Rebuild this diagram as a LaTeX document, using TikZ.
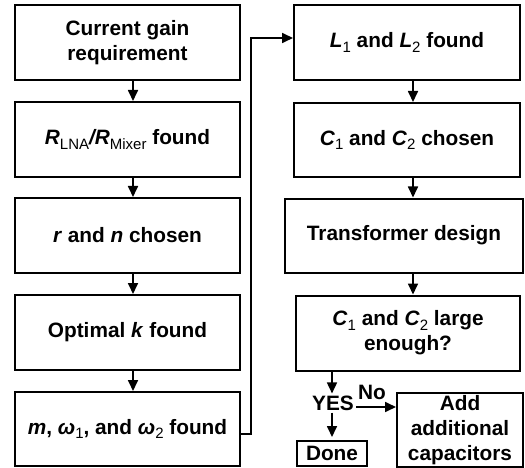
\documentclass[tikz,border=0pt]{standalone}
\usepackage{fontspec}
\setmainfont{Liberation Sans}
\usetikzlibrary{arrows.meta}
\newcommand{\sbs}[1]{\raisebox{-0.22em}{\fontsize{15}{15}\selectfont\mdseries\upshape #1}}
\begin{document}
\begin{tikzpicture}[x=1pt,y=-1pt,
  box/.style={draw, line width=2pt, inner sep=0pt, align=center,
    font=\fontsize{20.8}{25}\selectfont\bfseries},
  arr/.style={-{Triangle[length=11pt,width=10pt]}, line width=1.7pt},
  lbl/.style={inner sep=2pt, font=\fontsize{20.8}{25}\selectfont\bfseries}]
\useasboundingbox (0,0) rectangle (525,468);
% left column
\node[box, minimum width=225pt, minimum height=75pt] (b1) at (127.5,42.5) {Current gain\\requirement};
\node[box, minimum width=225pt, minimum height=75pt] (b2) at (127.5,139.5) {\textit{R}\sbs{LNA}\textit{/R}\sbs{Mixer} found};
\node[box, minimum width=225pt, minimum height=75pt] (b3) at (127.5,235.5) {\textit{r} and \textit{n} chosen};
\node[box, minimum width=225pt, minimum height=75pt] (b4) at (127.5,332.5) {Optimal \textit{k} found};
\node[box, minimum width=225pt, minimum height=74pt] (b5) at (127.5,429) {\textit{m}, \textit{ω}\sbs{1}, and \textit{ω}\sbs{2} found};
% right column
\node[box, minimum width=226pt, minimum height=75pt] (r1) at (407,42.5) {\textit{L}\sbs{1} and \textit{L}\sbs{2} found};
\node[box, minimum width=226pt, minimum height=74pt] (r2) at (407,140) {\textit{C}\sbs{1} and \textit{C}\sbs{2} chosen};
\node[box, minimum width=238pt, minimum height=74pt] (r3) at (404,235.5) {Transformer design};
\node[box, minimum width=224pt, minimum height=75pt] (r4) at (408,333) {\textit{C}\sbs{1} and \textit{C}\sbs{2} large\\enough?};
\node[lbl] (yes) at (333,403) {YES};
\node[lbl, inner sep=0pt] (no) at (372,392) {No};
\node[box, minimum width=70pt, minimum height=25pt] (done) at (332,453.5) {Done};
\node[box, minimum width=126pt, minimum height=74pt] (add) at (460,430) {Add\\additional\\capacitors};
% helper coordinates
\coordinate (xl) at (133,0);
\coordinate (xr) at (413,0);
\coordinate (xd) at (332,0);
\coordinate (ya) at (0,407);
\coordinate (f1) at (251,434);
\coordinate (f2) at (251,38);
% arrows
\draw[arr] (b1.south -| xl) -- (b2.north -| xl);
\draw[arr] (b2.south -| xl) -- (b3.north -| xl);
\draw[arr] (b3.south -| xl) -- (b4.north -| xl);
\draw[arr] (b4.south -| xl) -- (b5.north -| xl);
\draw[arr] (b5.east |- f1) -- (f1) -- (f2) -- (r1.west |- f2);
\draw[arr] (r1.south -| xr) -- (r2.north -| xr);
\draw[arr] (r2.south -| xr) -- (r3.north -| xr);
\draw[arr] (r3.south -| xr) -- (r4.north -| xr);
\draw[arr] (r4.south -| xd) -- (yes.north -| xd);
\draw[arr, shorten >=3pt] (yes.south -| xd) -- (done.north -| xd);
\draw[arr] (yes.east |- ya) -- (add.west |- ya);
\end{tikzpicture}
\end{document}
